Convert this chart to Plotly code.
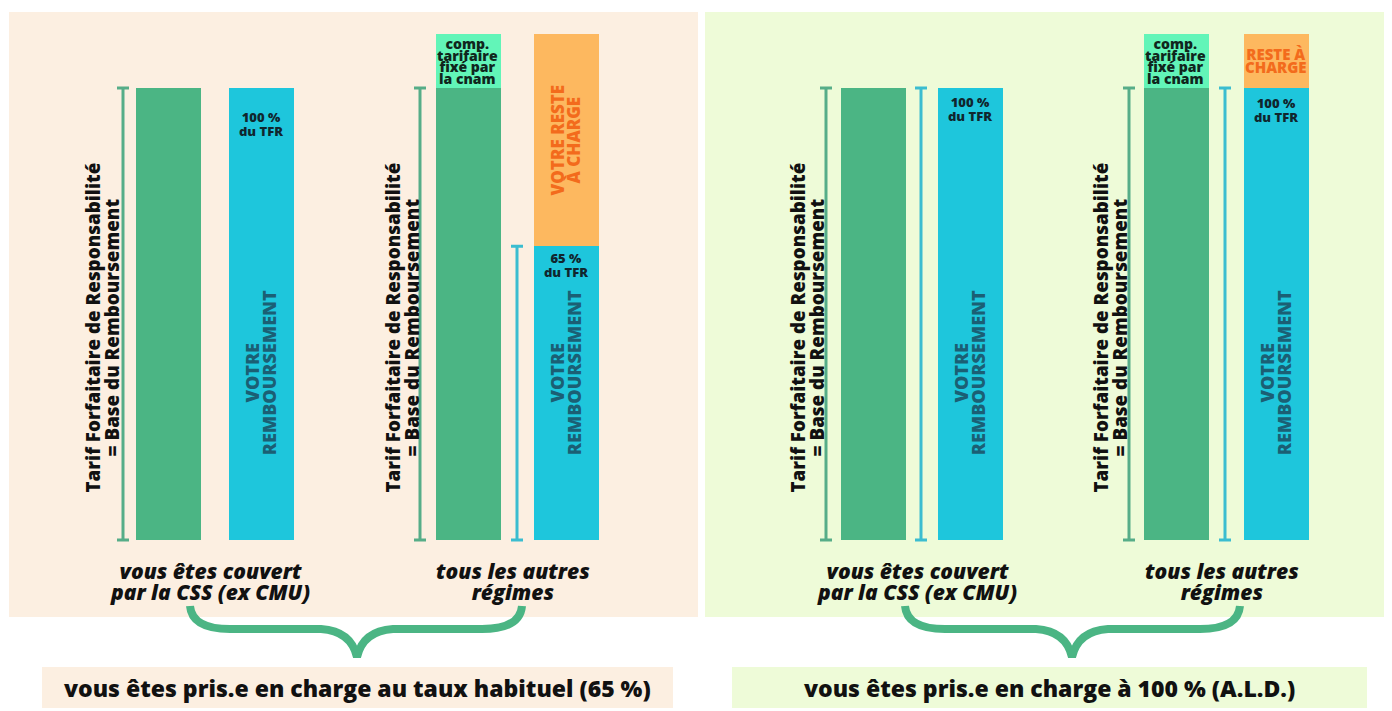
import plotly.graph_objects as go

W, H = 1392, 711          # target picture size
OFF = 8                   # page body margin
FW, FH = W - OFF, H - OFF  # figure size

# ---------------- data ----------------
PANEL_TITLES = ["vous êtes pris.e en charge au taux habituel (65 %)",
                "vous êtes pris.e en charge à 100 % (A.L.D.)"]
GROUP_LABELS = ["vous êtes couvert<br>par la CSS (ex CMU)", "tous les autres<br>régimes",
                "vous êtes couvert<br>par la CSS (ex CMU)", "tous les autres<br>régimes"]
TFR = [100, 100, 100, 100]          # tarif forfaitaire de responsabilité (base)
COMP = [0, 12, 0, 12]               # complément tarifaire fixé par la cnam
REMB = [100, 65, 100, 100]          # votre remboursement (% du TFR)
RESTE = [0, 47, 0, 12]              # votre reste à charge
REMB_LABELS = ["100 %<br>du TFR", "65 %<br>du TFR", "100 %<br>du TFR", "100 %<br>du TFR"]
RESTE_LABELS = ["", "VOTRE RESTE<br>À CHARGE", "", "RESTE À<br>CHARGE"]
COMP_LABEL = "comp.<br>tarifaire<br>fixé par<br>la cnam"
TFR_LABEL = "Tarif Forfaitaire de Responsabilité<br>= Base du Remboursement"
REMB_TEXT = "VOTRE<br>REMBOURSEMENT"
SHOW_REMB_BRACKET = [False, True, True, True]

# ---------------- layout / style ----------------
GREEN = "#4bb584"
MINT = "#62f5b8"
BLUE = "#1ec6dc"
ORANGE = "#fdb85f"
ORANGE_TXT = "#f36b1c"
TEAL_TXT = "#1b5f74"
DARK = "#111111"
BR_GREEN = "#56ad88"
BR_BLUE = "#3bbdd0"
PANEL_BG = ["#fcefe1", "#eefbd8"]
FONT = "Open Sans"
WEIGHT = 800

GREEN_LEFT = [135, 435, 840, 1143]
BLUE_LEFT = [228, 533, 937, 1243]
BAR_W = 65
GREEN_BR_GAP = [12, 15, 14, 14]
BLUE_BR_GAP = [16, 16, 16, 18]
REMB_LABEL_GAP = [22, 5, 7, 8]
Y0_PX, Y100_PX = 540, 88
SCALE = (Y0_PX - Y100_PX) / 100.0
Y_RANGE = [((Y0_PX - OFF) - FH) / SCALE, (Y0_PX - OFF) / SCALE]


def P(x, y):
    return (x - OFF) / FW, 1 - (y - OFF) / FH


fig = go.Figure()
annotations = []


def add_text(text, x, y, xref, size, color, spacing, angle=0, italic=False, yref="y"):
    """Multi-line text with tight line spacing: the base font size sets the line
    pitch (1.3 em) while an inner span sets the glyph size."""
    base = spacing / 1.3
    lines = text.split("<br>")
    body = "<br>".join(f'<span style="font-size:{size}px">{ln}</span>' for ln in lines)
    annotations.append(dict(
        text=body, x=x, y=y, xref=xref, yref=yref, showarrow=False,
        textangle=angle, xanchor="center", yanchor="middle", align="center", borderpad=0,
        font=dict(family=FONT, size=base, color=color, weight=WEIGHT,
                  style="italic" if italic else "normal")))


for g in range(4):
    ax = "x" if g == 0 else f"x{g + 1}"
    s = BLUE_LEFT[g] - GREEN_LEFT[g]
    c1 = GREEN_LEFT[g] + BAR_W / 2
    lo, hi = -1.0, 1.6
    key = "xaxis" if g == 0 else f"xaxis{g + 1}"
    fig.update_layout(**{key: dict(domain=[(c1 + lo * s - OFF) / FW, (c1 + hi * s - OFF) / FW],
                                   range=[lo, hi], visible=False, fixedrange=True,
                                   anchor="y")})
    bw = BAR_W / s

    def u(px, c1=c1, s=s):
        return (px - c1) / s

    fig.add_trace(go.Bar(x=[0], y=[TFR[g]], base=[0], width=bw, marker_color=GREEN,
                         marker_line_width=0, xaxis=ax, yaxis="y", showlegend=False))
    fig.add_trace(go.Bar(x=[0], y=[COMP[g]], base=[TFR[g]], width=bw, marker_color=MINT,
                         marker_line_width=0, xaxis=ax, yaxis="y", showlegend=False))
    fig.add_trace(go.Bar(x=[1], y=[REMB[g]], base=[0], width=bw, marker_color=BLUE,
                         marker_line_width=0, xaxis=ax, yaxis="y", showlegend=False))
    fig.add_trace(go.Bar(x=[1], y=[RESTE[g]], base=[REMB[g]], width=bw, marker_color=ORANGE,
                         marker_line_width=0, xaxis=ax, yaxis="y", showlegend=False))

    # brackets (error bars spanning the base)
    fig.add_trace(go.Scatter(x=[u(GREEN_LEFT[g] - GREEN_BR_GAP[g])], y=[0], mode="markers",
                             marker=dict(size=1, color="rgba(0,0,0,0)"),
                             error_y=dict(type="data", symmetric=False, array=[TFR[g]],
                                          arrayminus=[0], color=BR_GREEN, thickness=3, width=6),
                             xaxis=ax, yaxis="y", showlegend=False, hoverinfo="skip"))
    if SHOW_REMB_BRACKET[g]:
        fig.add_trace(go.Scatter(x=[u(BLUE_LEFT[g] - BLUE_BR_GAP[g])], y=[0], mode="markers",
                                 marker=dict(size=1, color="rgba(0,0,0,0)"),
                                 error_y=dict(type="data", symmetric=False, array=[REMB[g]],
                                              arrayminus=[0], color=BR_BLUE, thickness=3, width=6),
                                 xaxis=ax, yaxis="y", showlegend=False, hoverinfo="skip"))

    # texts
    add_text(TFR_LABEL, u(GREEN_LEFT[g] - 32), 47, ax, 18.8, DARK, 19, angle=-90)
    add_text(REMB_TEXT, 1, 37, ax, 18, TEAL_TXT, 17, angle=-90)
    add_text(REMB_LABELS[g], 1, REMB[g] - (REMB_LABEL_GAP[g] + 14) / SCALE, ax, 13,
             "#10262e", 14)
    if COMP[g] > 0:
        add_text(COMP_LABEL, 0, TFR[g] + COMP[g] / 2, ax, 14, "#10261d", 11.7)
    if RESTE[g] > 0:
        if RESTE[g] > 20:
            add_text(RESTE_LABELS[g], 1, REMB[g] + RESTE[g] / 2, ax, 17, ORANGE_TXT, 16,
                     angle=-90)
        else:
            add_text(RESTE_LABELS[g], 1, REMB[g] + RESTE[g] / 2, ax, 15, ORANGE_TXT, 13)
    add_text(GROUP_LABELS[g], 0.46, (Y0_PX - 581) / SCALE, ax, 21, DARK, 20.5, italic=True)

fig.update_layout(yaxis=dict(domain=[0, 1], range=Y_RANGE, visible=False, fixedrange=True))

# panels, bottom boxes, braces
shapes = []
PANEL_PX = [(9, 12, 698, 617), (705, 12, 1388, 617)]
BOX_PX = [(42, 667, 673, 708), (732, 667, 1367, 708)]
BRACE_PX = [(190, 357, 522), (905, 1072, 1240)]
for i in range(2):
    x0, y0, x1, y1 = PANEL_PX[i]
    a, b = P(x0, y0); c, d = P(x1, y1)
    shapes.append(dict(type="rect", xref="paper", yref="paper", x0=a, y0=d, x1=c, y1=b,
                       fillcolor=PANEL_BG[i], line_width=0, layer="below"))
    x0, y0, x1, y1 = BOX_PX[i]
    a, b = P(x0, y0); c, d = P(x1, y1)
    shapes.append(dict(type="rect", xref="paper", yref="paper", x0=a, y0=d, x1=c, y1=b,
                       fillcolor=PANEL_BG[i], line_width=0, layer="below"))
    annotations.append(dict(text=PANEL_TITLES[i], x=(a + c) / 2, y=(b + d) / 2,
                            xref="paper", yref="paper", showarrow=False,
                            xanchor="center", yanchor="middle",
                            font=dict(family=FONT, size=23, color=DARK, weight=WEIGHT)))
    L, M, R = BRACE_PX[i]
    top, mid, tip = 606, 629, 657
    pts = [("M", [(L, top)]),
           ("Q", [(L + 2, mid), (L + 40, mid)]),
           ("L", [(M - 36, mid)]),
           ("Q", [(M - 6, mid + 2), (M, tip)]),
           ("Q", [(M + 6, mid + 2), (M + 36, mid)]),
           ("L", [(R - 40, mid)]),
           ("Q", [(R - 2, mid), (R, top)])]
    path = ""
    for cmd, plist in pts:
        path += cmd + " " + " ".join("%.5f,%.5f" % P(px, py) for px, py in plist) + " "
    shapes.append(dict(type="path", xref="paper", yref="paper", path=path.strip(),
                       line=dict(color=GREEN, width=8)))

fig.update_layout(width=FW, height=FH, margin=dict(l=0, r=0, t=0, b=0),
                  paper_bgcolor="white", plot_bgcolor="rgba(0,0,0,0)",
                  barmode="overlay", bargap=0, showlegend=False,
                  shapes=shapes, annotations=annotations)

fig.write_html("out.html", config={"displayModeBar": False})
